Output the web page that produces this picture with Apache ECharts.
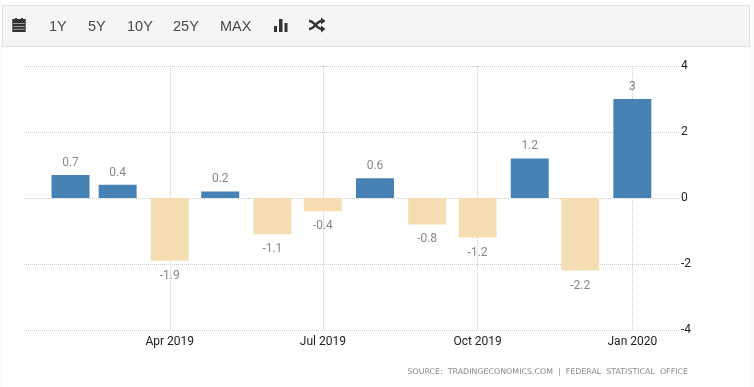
<!DOCTYPE html>
<html><head><meta charset="utf-8">
<style>html,body{margin:0;padding:0;background:#fff}#c{width:754px;height:387px}</style>
<script src="https://cdn.jsdelivr.net/npm/echarts@6/dist/echarts.min.js"></script>
</head><body><div id="c"></div>
<script>
const months = ['2019-02-01','2019-03-01','2019-04-01','2019-05-01','2019-06-01','2019-07-01','2019-08-01','2019-09-01','2019-10-01','2019-11-01','2019-12-01','2020-01-01'];
const values = [0.7,0.4,-1.9,0.2,-1.1,-0.4,0.6,-0.8,-1.2,1.2,-2.2,3];
const xTicks = ['2019-04-01','2019-07-01','2019-10-01','2020-01-01'];
const xTickLabels = ['Apr 2019','Jul 2019','Oct 2019','Jan 2020'];
const yTicks = [-4,-2,0,2,4];
const toolbarLabels = [['1Y',49],['5Y',88],['10Y',127],['25Y',173],['MAX',220]];
const sourceText = 'SOURCE:  TRADINGECONOMICS.COM  |  FEDERAL  STATISTICAL  OFFICE';

const ts = s => new Date(s + 'T00:00:00Z').getTime();
const chart = echarts.init(document.getElementById('c'), null, {renderer:'canvas'});
const icon = '#333';
const curve = (x1,y1,x2,y2) => ({type:'bezierCurve',shape:{x1,y1,x2,y2,cpx1:x1+6,cpy1:y1,cpx2:x2-6,cpy2:y2},style:{fill:'none',stroke:icon,lineWidth:2.4}});
const graphics = [
  {type:'rect',shape:{x:0,y:0,width:2,height:387},style:{fill:'#fbfbfb'}},
  {type:'rect',shape:{x:750,y:0,width:4,height:387},style:{fill:'#fbfbfb'}},
  {type:'rect',shape:{x:2.5,y:5.5,width:747,height:41},style:{fill:'#f5f5f5',stroke:'#e0e0e0',lineWidth:1}},
  ...toolbarLabels.map(([t,x])=>({type:'text',x,y:26.5,style:{text:t,fill:'#4a4a4a',font:'14.5px "Liberation Sans"',textVerticalAlign:'middle'}})),
  {type:'rect',shape:{x:12.3,y:19,width:13.4,height:13},style:{fill:icon}},
  {type:'rect',shape:{x:15,y:18,width:2,height:2},style:{fill:icon}},
  {type:'rect',shape:{x:21,y:18,width:2,height:2},style:{fill:icon}},
  {type:'rect',shape:{x:13.3,y:23.2,width:11.4,height:0.8},style:{fill:'#bbb'}},
  {type:'rect',shape:{x:13.3,y:26,width:11.4,height:0.8},style:{fill:'#bbb'}},
  {type:'rect',shape:{x:13.3,y:28.8,width:11.4,height:0.8},style:{fill:'#bbb'}},
  {type:'rect',shape:{x:274,y:26,width:3,height:6},style:{fill:icon}},
  {type:'rect',shape:{x:279,y:19,width:3.5,height:13},style:{fill:icon}},
  {type:'rect',shape:{x:284.5,y:23,width:3,height:9},style:{fill:icon}},
  curve(309,21,322,29),
  curve(309,29,322,21),
  {type:'polygon',shape:{points:[[321,17.5],[325.5,21],[321,24.5]]},style:{fill:icon}},
  {type:'polygon',shape:{points:[[321,25.5],[325.5,29],[321,32.5]]},style:{fill:icon}},
  {type:'text',x:688,y:372,style:{text:sourceText,fill:'#8a8a8a',font:'7.9px "DejaVu Sans"',textAlign:'right',textVerticalAlign:'middle'}}
];
const tickVals = xTicks.map(ts);
const shift = 8 * 3600 * 1000;
chart.setOption({
  animation:false,
  backgroundColor:'#fff',
  graphic:graphics,
  grid:{left:24,right:74,top:66,bottom:57},
  xAxis:{
    type:'value',
    min:ts('2019-01-04')+shift,max:ts('2020-01-29')+shift,
    axisLine:{show:false},
    axisTick:{show:true,length:4,customValues:tickVals,lineStyle:{color:'#ccc',type:'dotted'}},
    axisLabel:{
      customValues:tickVals,
      formatter:v=>xTickLabels[tickVals.indexOf(v)]||'',
      color:'#222',fontSize:12,fontFamily:'Roboto',margin:6,hideOverlap:false,showMinLabel:true,showMaxLabel:true
    },
    splitLine:{show:true,lineStyle:{color:'#ccc',type:'dotted',width:1}}
  },
  yAxis:{
    type:'value',position:'right',min:yTicks[0],max:yTicks[yTicks.length-1],interval:2,
    axisLine:{show:false},axisTick:{show:false},
    axisLabel:{color:'#222',fontSize:12,fontFamily:'Roboto',margin:1,padding:[4,0,0,0]},
    splitLine:{show:true,lineStyle:{color:'#ccc',type:'dotted',width:1}}
  },
  series:[{
    type:'bar',barWidth:38,
    data:months.map((m,i)=>({
      value:[ts(m),values[i]],
      itemStyle:{color:values[i]>=0?'#4682b4':'#f5deb3'},
      label:{position:values[i]>=0?'top':'bottom',distance:values[i]>=0?6:9}
    })),
    label:{show:true,color:'#888',fontSize:12,fontFamily:'Roboto',formatter:p=>String(p.value[1])}
  }]
});
</script></body></html>
